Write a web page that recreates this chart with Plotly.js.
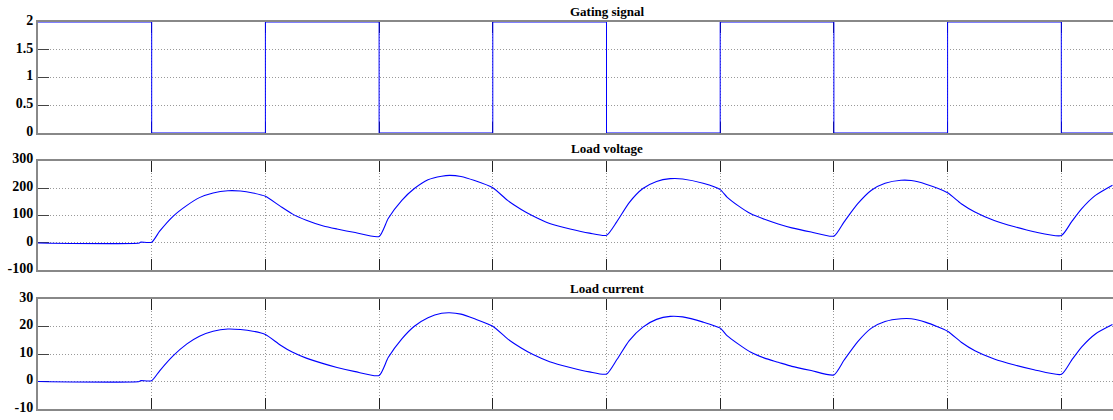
<!DOCTYPE html>
<html>
<head>
<meta charset="utf-8">
<script src="https://cdn.plot.ly/plotly-3.0.1.min.js"></script>
<style>
  html, body { margin: 0; padding: 0; background: #fff; overflow: hidden; width: 1113px; height: 420px; }
  #chart { width: 1200px; height: 420px; }
</style>
</head>
<body>
<div id="chart"></div>
<script>
// ---- data ----
const panelTitles = ['Gating signal', 'Load voltage', 'Load current'];

const gateTime   = [0, 1, 2, 3, 4, 5, 6, 7, 8, 9, 10];
const gateSignal = [2, 0, 2, 0, 2, 0, 2, 0, 2, 0, 0];

const time = [0, 0.89, 0.9, 1.0, 1.07, 1.19, 1.31, 1.42, 1.54, 1.67, 1.78, 1.89, 2.0, 2.13, 2.24, 2.36, 2.51, 2.63, 2.79, 3.0,
  3.08, 3.20, 3.31, 3.43, 3.55, 3.62, 3.72, 3.84, 4.0, 4.13, 4.25, 4.35, 4.50, 4.68, 4.85, 5.0,
  5.09, 5.20, 5.32, 5.44, 5.56, 5.67, 5.85, 6.0, 6.06, 6.16, 6.27, 6.39, 6.51, 6.63, 6.80, 7.0,
  7.09, 7.21, 7.33, 7.45, 7.59, 7.68, 7.81, 8.0, 8.12, 8.24, 8.41, 8.59, 8.76, 9.0,
  9.09, 9.18, 9.30, 9.45];

const loadVoltage = [0, 0, 3, 3, 43, 98, 137, 165, 182, 190, 189, 182, 170, 134, 105, 83, 62, 51, 38, 24,
  89, 155, 198, 230, 243, 246, 242, 227, 201, 155, 122, 99, 71, 51, 36, 28,
  77, 147, 198, 224, 234, 233, 217, 194, 167, 135, 106, 86, 69, 55, 40, 25,
  77, 143, 192, 217, 228, 227, 214, 183, 143, 113, 82, 59, 41, 27,
  77, 125, 173, 210];

const loadCurrent = [0, 0, 0.3, 0.3, 3.9, 9.4, 13.7, 16.5, 18.3, 19.1, 18.9, 18.3, 17.1, 13.3, 10.6, 8.5, 6.5, 5.1, 3.6, 2.2,
  8.7, 15.5, 20.1, 23.2, 24.8, 25.0, 24.5, 22.8, 20.1, 15.5, 12.2, 9.9, 7.2, 5.1, 3.5, 2.7,
  7.9, 14.9, 19.8, 22.6, 23.7, 23.5, 21.6, 19.4, 16.7, 13.6, 10.6, 8.5, 7.0, 5.5, 4.0, 2.4,
  7.8, 14.5, 19.4, 21.8, 22.8, 22.8, 21.5, 18.3, 14.3, 11.2, 8.2, 6.0, 4.3, 2.6,
  7.7, 12.6, 17.3, 20.7];

const gateTicks = [0, 0.5, 1, 1.5, 2];
const gateTickText = ['0', '0.5', '1', '1.5', '2'];
const voltTicks = [-100, 0, 100, 200, 300];
const voltTickText = ['-100', '0', '100', '200', '300'];
const currTicks = [-10, 0, 10, 20, 30];
const currTickText = ['-10', '0', '10', '20', '30'];
const timeTicks = [0, 1, 2, 3, 4, 5, 6, 7, 8, 9, 10];

// ---- styling ----
const serif = '"Liberation Serif", "Times New Roman", serif';
const blue = '#0000ff';

const traces = [
  { x: gateTime, y: gateSignal, xaxis: 'x', yaxis: 'y', mode: 'lines', line: { color: blue, width: 1, shape: 'hv' }, hoverinfo: 'skip' },
  { x: time, y: loadVoltage, xaxis: 'x2', yaxis: 'y2', mode: 'lines', line: { color: blue, width: 1.1, shape: 'spline', smoothing: 0.6 }, hoverinfo: 'skip' },
  { x: time, y: loadCurrent, xaxis: 'x3', yaxis: 'y3', mode: 'lines', line: { color: blue, width: 1.1, shape: 'spline', smoothing: 0.6 }, hoverinfo: 'skip' }
];

function xAx(anchor) {
  return {
    anchor: anchor, range: [0, 10], tickmode: 'array', tickvals: timeTicks, showticklabels: false,
    ticks: 'inside', ticklen: 11, tickwidth: 1, tickcolor: '#222',
    showline: true, linecolor: '#888', linewidth: 2, mirror: 'ticks',
    showgrid: true, gridcolor: '#999', gridwidth: 1, griddash: '1px,2px',
    zeroline: false, layer: 'below traces', fixedrange: true
  };
}
function yAx(anchor, dom, rng, vals, text) {
  return {
    anchor: anchor, domain: dom, range: rng, tickmode: 'array', tickvals: vals, ticktext: text,
    ticks: 'inside', ticklen: 11, tickwidth: 1, tickcolor: '#444',
    tickfont: { family: serif, size: 14, color: '#000', weight: 700 },
    ticklabelshift: -2,
    showline: true, linecolor: '#888', linewidth: 2, mirror: 'ticks',
    showgrid: true, gridcolor: '#999', gridwidth: 1, griddash: '1px,2px',
    zeroline: false, layer: 'below traces', fixedrange: true
  };
}

const titleY = [1.0284, 0.6744, 0.3101];
const annotations = panelTitles.map((t, k) => ({
  text: '<b>' + t + '</b>', xref: 'paper', yref: 'paper', x: 0.5, y: titleY[k], xanchor: 'center', yanchor: 'middle',
  showarrow: false, font: { family: serif, size: 13, color: '#000' }
}));

const layout = {
  width: 1200, height: 420,
  margin: { l: 38, r: 25, t: 22, b: 11 },
  font: { family: serif, size: 13, color: '#000' },
  paper_bgcolor: '#fff', plot_bgcolor: '#fff',
  showlegend: false,
  xaxis: xAx('y'), xaxis2: xAx('y2'), xaxis3: xAx('y3'),
  yaxis: yAx('x', [0.7132, 1], [0, 2], gateTicks, gateTickText),
  yaxis2: yAx('x2', [0.3579, 0.6421], [-100, 300], voltTicks, voltTickText),
  yaxis3: yAx('x3', [0, 0.2842], [-10, 30], currTicks, currTickText),
  annotations: annotations
};

Plotly.newPlot('chart', traces, layout, { displayModeBar: false, staticPlot: true });
</script>
</body>
</html>
